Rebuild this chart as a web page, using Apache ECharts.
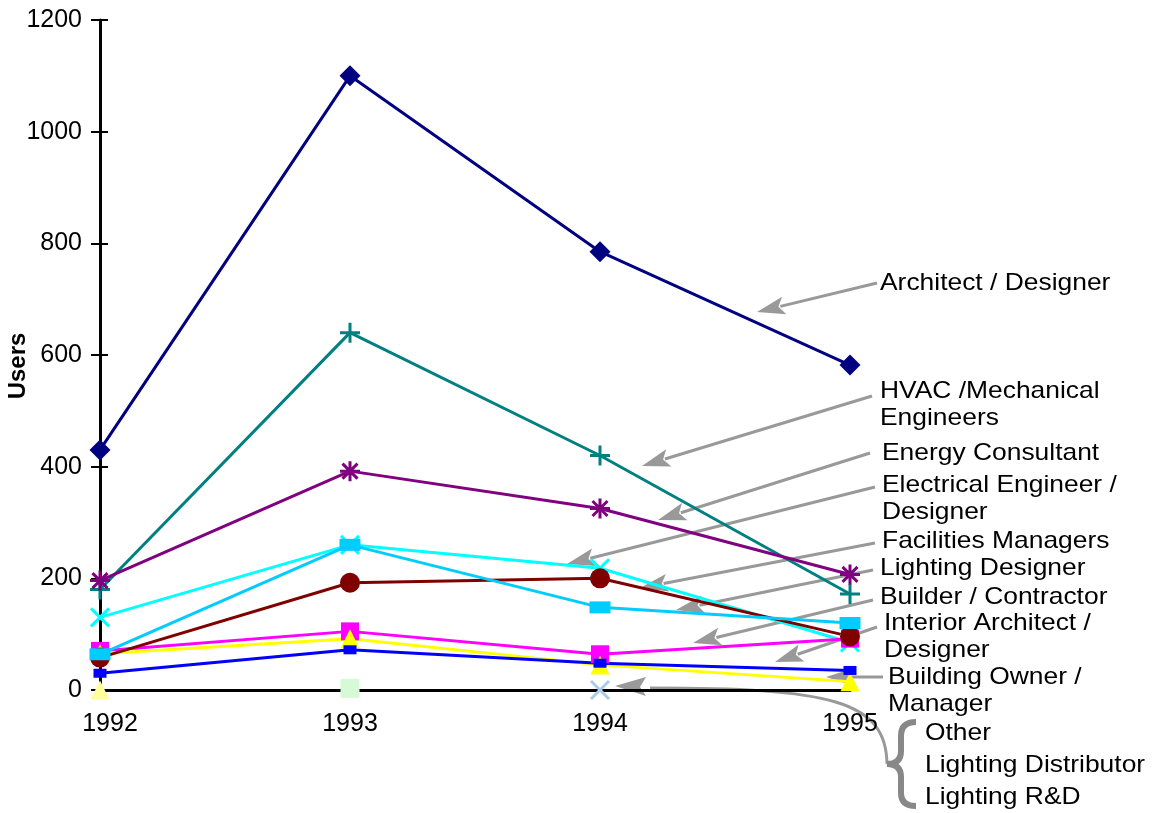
<!DOCTYPE html>
<html>
<head>
<meta charset="utf-8">
<script src="https://cdn.jsdelivr.net/npm/echarts@6/dist/echarts.min.js"></script>
<style>
  html, body { margin: 0; padding: 0; background: #fff; }
  #chart { width: 1154px; height: 813px; }
</style>
</head>
<body>
<div id="chart"></div>
<script>
// categories
var years = ['1992', '1993', '1994', '1995'];
var yTicks = [0, 200, 400, 600, 800, 1000, 1200];

// users per group
var architect = [430, 1100, 785, 582];
var hvac = [180, 640, 420, 172];
var energy = [196, 392, 325, 207];
var electrical = [130, 260, 218, 85];
var builder = [70, 105, 64, 92];
var interior = [65, 92, 45, 15];
var facilities = [58, 192, 200, 96];
var lightingDesigner = [64, 260, 148, 120];
var owner = [30, 72, 48, 35];
var other = [0, null, null, null];
var distributor = [null, 3, null, null];
var lightingRD = [null, null, 0, null];

var FONT = '"Liberation Sans", Arial, sans-serif';
var GRAY = '#999999';

var chart = echarts.init(document.getElementById('chart'));

function mkLine(name, data, color, symbol, size, stroke) {
  return {
    name: name,
    type: 'line',
    data: data,
    symbol: symbol,
    symbolSize: size,
    showSymbol: true,
    connectNulls: false,
    lineStyle: { color: color, width: 3 },
    itemStyle: stroke
      ? { color: 'rgba(0,0,0,0)', borderColor: color, borderWidth: 3 }
      : { color: color, borderWidth: 0 },
    emphasis: { disabled: true },
    z: 2
  };
}

var PLUS = 'path://M0,-1 L0,1 M-1,0 L1,0';
var CROSS = 'path://M-1,-1 L1,1 M-1,1 L1,-1';
var STAR = 'path://M0,-1 L0,1 M-1,0 L1,0 M-0.75,-0.75 L0.75,0.75 M-0.75,0.75 L0.75,-0.75';

// arrow annotation from (x1,y1) to tip (x2,y2)
function arrow(x1, y1, x2, y2) {
  var a = Math.atan2(y2 - y1, x2 - x1);
  var len = 28, half = 9;
  var bx = x2 - len * Math.cos(a), by = y2 - len * Math.sin(a);
  var px = -Math.sin(a) * half, py = Math.cos(a) * half;
  return [{
    type: 'line',
    shape: { x1: x1, y1: y1, x2: bx + 4 * Math.cos(a), y2: by + 4 * Math.sin(a) },
    style: { stroke: GRAY, lineWidth: 3 },
    silent: true
  }, {
    type: 'polygon',
    shape: { points: [[x2, y2], [bx + px, by + py], [bx + 6 * Math.cos(a), by + 6 * Math.sin(a)], [bx - px, by - py]] },
    style: { fill: GRAY },
    silent: true
  }];
}

function label(x, y, text) {
  return {
    type: 'text',
    x: x, y: y,
    scaleX: 1.1,
    style: { text: text, font: '24px ' + FONT, fill: '#000', verticalAlign: 'middle', lineHeight: 27 },
    silent: true
  };
}

function curve(x1, y1, cx, cy, x2, y2, w, c) {
  return {
    type: 'bezierCurve',
    shape: { x1: x1, y1: y1, cpx1: cx, cpy1: cy, x2: x2, y2: y2 },
    style: { stroke: c, lineWidth: w, fill: null },
    silent: true
  };
}

function seg(x1, y1, x2, y2, w, c) {
  return {
    type: 'line',
    shape: { x1: x1, y1: y1, x2: x2, y2: y2 },
    style: { stroke: c, lineWidth: w },
    silent: true
  };
}

var graphics = [];
graphics = graphics.concat(arrow(877, 283, 757, 312));
graphics = graphics.concat(arrow(872, 396, 642, 466));
graphics = graphics.concat(arrow(870, 453, 658, 520));
graphics = graphics.concat(arrow(875, 487, 567, 564));
graphics = graphics.concat(arrow(875, 543, 640, 588));
graphics = graphics.concat(arrow(873, 570, 676, 610));
graphics = graphics.concat(arrow(873, 600, 693, 643));
graphics = graphics.concat(arrow(877, 627, 775, 662));
graphics = graphics.concat(arrow(883, 677, 826, 677));
// curved pointer from the brace
graphics.push({
  type: 'bezierCurve',
  shape: { x1: 887, y1: 764, x2: 650, y2: 688, cpx1: 886, cpy1: 700, cpx2: 830, cpy2: 688 },
  style: { stroke: GRAY, lineWidth: 3, fill: null },
  silent: true
});
graphics.push({
  type: 'polygon',
  shape: { points: [[615, 686], [646, 677], [640, 687], [646, 696]] },
  style: { fill: GRAY },
  silent: true
});
// brace
var BR = '#888888';
graphics.push(curve(916, 722, 901, 722, 901, 736, 6, BR));
graphics.push(seg(901, 735, 901, 752, 6, BR));
graphics.push(curve(901, 751, 901, 764, 887, 764, 6, BR));
graphics.push(curve(887, 764, 901, 764, 901, 777, 6, BR));
graphics.push(seg(901, 776, 901, 794, 6, BR));
graphics.push(curve(901, 793, 901, 806, 916, 806, 6, BR));

graphics.push(label(880, 283, 'Architect / Designer'));
graphics.push(label(880, 405, 'HVAC /Mechanical\nEngineers'));
graphics.push(label(882, 453, 'Energy Consultant'));
graphics.push(label(882, 499, 'Electrical Engineer /\nDesigner'));
graphics.push(label(882, 541, 'Facilities Managers'));
graphics.push(label(880, 568, 'Lighting Designer'));
graphics.push(label(880, 597, 'Builder / Contractor'));
graphics.push(label(884, 637, 'Interior Architect /\nDesigner'));
graphics.push(label(888, 691, 'Building Owner /\nManager'));
graphics.push(label(925, 733, 'Other'));
graphics.push(label(925, 765, 'Lighting Distributor'));
graphics.push(label(925, 797, 'Lighting R&D'));
graphics.push({
  type: 'text',
  x: 18, y: 366,
  rotation: Math.PI / 2,
  style: { text: 'Users', font: 'bold 24px ' + FONT, fill: '#000', align: 'center', verticalAlign: 'middle' },
  silent: true
});

var option = {
  animation: false,
  backgroundColor: '#fff',
  grid: { left: 100, right: 304, top: 20, bottom: 123 },
  xAxis: {
    type: 'category',
    data: years,
    boundaryGap: false,
    axisLine: { lineStyle: { color: '#000', width: 3 } },
    axisTick: { show: false },
    axisLabel: {
      color: '#000', fontSize: 25, fontFamily: FONT, margin: 22,
      formatter: function (v, i) { return i === 0 ? '{a|' + v + '}' : v; },
      rich: { a: { color: '#000', fontSize: 25, fontFamily: FONT, padding: [0, 0, 0, 20] } }
    },
    splitLine: { show: false }
  },
  yAxis: [{
    type: 'value',
    min: yTicks[0],
    max: yTicks[yTicks.length - 1],
    interval: 200,
    axisLine: { show: true, lineStyle: { color: '#000', width: 3 } },
    axisTick: { show: true, length: 9, lineStyle: { color: '#000', width: 2 } },
    axisLabel: { color: '#000', fontSize: 25, fontFamily: FONT, margin: 18, formatter: function (v) { return String(v); } },
    splitLine: { show: false }
  }, {
    type: 'value',
    position: 'left',
    min: yTicks[0],
    max: yTicks[yTicks.length - 1],
    interval: 200,
    axisLine: { show: false },
    axisTick: { show: true, inside: true, length: 8, lineStyle: { color: '#000', width: 2 } },
    axisLabel: { show: false },
    splitLine: { show: false }
  }],
  series: [
    mkLine('Architect / Designer', architect, '#000080', 'diamond', 21, false),
    mkLine('HVAC /Mechanical Engineers', hvac, '#008080', PLUS, 20, true),
    mkLine('Energy Consultant', energy, '#800080', STAR, 20, true),
    mkLine('Electrical Engineer / Designer', electrical, '#00FFFF', CROSS, 18, true),
    mkLine('Builder / Contractor', builder, '#FF00FF', 'rect', 18, false),
    mkLine('Interior Architect / Designer', interior, '#FFFF00', 'triangle', 19, false),
    mkLine('Facilities Managers', facilities, '#800000', 'circle', 20, false),
    mkLine('Lighting Designer', lightingDesigner, '#00CCFF', 'rect', [21, 12], false),
    mkLine('Building Owner / Manager', owner, '#0000FF', 'rect', [13, 9], false),
    mkLine('Other', other, '#FFFF99', 'triangle', 19, false),
    mkLine('Lighting Distributor', distributor, '#D6FAD6', 'rect', 19, false),
    mkLine('Lighting R&D', lightingRD, '#A9CCEB', CROSS, 18, true)
  ],
  graphic: graphics
};

chart.setOption(option, true);
</script>
</body>
</html>
